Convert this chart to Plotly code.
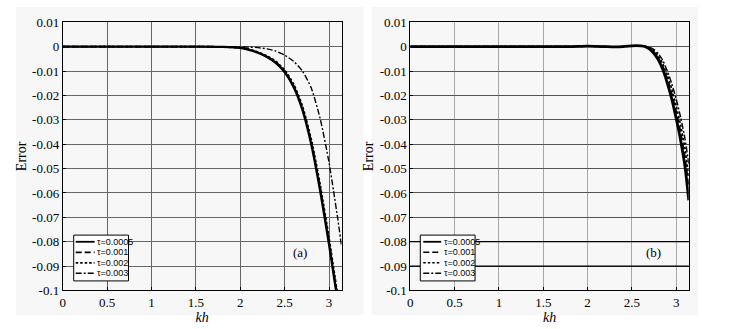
import plotly.graph_objects as go
from plotly.subplots import make_subplots

# ---- data -------------------------------------------------------------
tau_labels = ["τ=0.0005", "τ=0.001", "τ=0.002", "τ=0.003"]

# panel (a)
kh_a = [0, 0.5, 1.0, 1.5, 1.8, 2.0, 2.1, 2.2, 2.3, 2.4, 2.5, 2.6, 2.7,
        2.8, 2.9, 3.0, 3.05, 3.1, 3.1416]
err_a_0005 = [0, 0, 0, 0, -0.0001, -0.0005, -0.0013, -0.0025, -0.0042, -0.0066,
              -0.0104, -0.0164, -0.0258, -0.0400, -0.0590, -0.0810, -0.0930,
              -0.1050, -0.1160]
err_a_001 = [0, 0, 0, 0, -0.0001, -0.0005, -0.0012, -0.0024, -0.0041, -0.0064,
             -0.0101, -0.0160, -0.0252, -0.0392, -0.0580, -0.0800, -0.0920,
             -0.1040, -0.1150]
err_a_002 = [0, 0, 0, 0, -0.0001, -0.0004, -0.0011, -0.0022, -0.0038, -0.0060,
             -0.0096, -0.0153, -0.0243, -0.0380, -0.0566, -0.0785, -0.0905,
             -0.1025, -0.1135]
err_a_003 = [0, 0, 0, 0, 0, -0.0001, -0.0002, -0.0004, -0.0009, -0.0018,
             -0.0035, -0.0060, -0.0100, -0.0170, -0.0295, -0.0475, -0.0590,
             -0.0710, -0.0820]

# panel (b)
kh_b = [0, 0.5, 1.0, 1.5, 1.8, 1.9, 2.0, 2.1, 2.2, 2.3, 2.4, 2.5, 2.55, 2.6,
        2.65, 2.7, 2.75, 2.8, 2.85, 2.9, 2.95, 3.0, 3.05, 3.1, 3.1416]
err_b_0005 = [0, 0, 0, 0, 0, 0.0001, 0.0002, 0.0001, 0, -0.0001, 0, 0.0003,
              0.0004, 0.0003, 0, -0.0010, -0.0028, -0.0055, -0.0095, -0.0150,
              -0.0215, -0.0295, -0.0385, -0.0495, -0.0630]
err_b_001 = [0, 0, 0, 0, 0, 0.0001, 0.0002, 0.0001, 0, -0.0001, 0, 0.0003,
             0.0004, 0.0003, 0.0001, -0.0007, -0.0022, -0.0046, -0.0082, -0.0132,
             -0.0192, -0.0266, -0.0350, -0.0455, -0.0575]
err_b_002 = [0, 0, 0, 0, 0, 0.0001, 0.0002, 0.0001, 0, -0.0001, 0, 0.0003,
             0.0004, 0.0003, 0.0001, -0.0005, -0.0018, -0.0040, -0.0072, -0.0118,
             -0.0174, -0.0243, -0.0322, -0.0420, -0.0530]
err_b_003 = [0, 0, 0, 0, 0, 0.0001, 0.0002, 0.0001, 0, -0.0001, 0, 0.0003,
             0.0004, 0.0003, 0.0002, -0.0003, -0.0012, -0.0030, -0.0058, -0.0100,
             -0.0152, -0.0215, -0.0290, -0.0380, -0.0480]

x_ticks = [0, 0.5, 1, 1.5, 2, 2.5, 3]
x_ticktext = ["0", "0.5", "1", "1.5", "2", "2.5", "3"]
y_ticks = [0.01, 0, -0.01, -0.02, -0.03, -0.04, -0.05, -0.06, -0.07, -0.08,
           -0.09, -0.1]
y_ticktext = ["0.01", "0", "-0.01", "-0.02", "-0.03", "-0.04", "-0.05",
              "-0.06", "-0.07", "-0.08", "-0.09", "-0.1"]
panel_tags = ["(a)", "(b)"]

# ---- styling ----------------------------------------------------------
W, H = 732, 329
SERIF = "Liberation Serif"
SANS = "Liberation Sans"

styles = [
    dict(dash="solid", width=2.4),
    dict(dash="6px,3px", width=1.8),
    dict(dash="2.5px,2px", width=1.8),
    dict(dash="6px,2px,2px,2px", width=1.4),
]
styles_b = [
    dict(dash="solid", width=2.8),
    dict(dash="6px,3px", width=1.6),
    dict(dash="2.5px,2px", width=1.6),
    dict(dash="6px,2px,2px,2px", width=1.4),
]


def px(x):
    return x / W


def py(y):
    return 1 - y / H


fig = make_subplots(rows=1, cols=2)

series_a = [err_a_0005, err_a_001, err_a_002, err_a_003]
series_b = [err_b_0005, err_b_001, err_b_002, err_b_003]

for i in range(4):
    fig.add_trace(go.Scatter(x=kh_a, y=series_a[i], mode="lines",
                             line=dict(color="black", shape="spline",
                                       smoothing=0.6, **styles[i]),
                             name=tau_labels[i], showlegend=False),
                  row=1, col=1)
for i in range(4):
    fig.add_trace(go.Scatter(x=kh_b, y=series_b[i], mode="lines",
                             line=dict(color="black", shape="spline",
                                       smoothing=0.6, **styles_b[i]),
                             name=tau_labels[i], showlegend=False),
                  row=1, col=2)

x_dom = [[px(60), px(340)], [px(409), px(688.6)]]
y_dom = [py(297), py(16)]
grid_x = ["#666666", "#a8a8a8"]
grid_y = ["#666666", "#555555"]

for c in range(2):
    fig.update_xaxes(domain=x_dom[c], range=[0, 3.1416], tickvals=x_ticks,
                     ticktext=x_ticktext, showgrid=True, gridcolor=grid_x[c],
                     gridwidth=1, zeroline=False, showline=True,
                     linecolor="black", linewidth=1, mirror=True,
                     ticks="inside", ticklen=3, tickcolor="black",
                     tickfont=dict(family=SERIF, size=13, color="black"),
                     title=dict(text="<i>kh</i>", standoff=0,
                                font=dict(family=SERIF, size=14, color="black")),
                     row=1, col=c + 1)
    fig.update_yaxes(domain=y_dom, range=[-0.1, 0.01], tickvals=y_ticks,
                     ticktext=y_ticktext, showgrid=True, gridcolor=grid_y[c],
                     gridwidth=1, zeroline=False, showline=True,
                     linecolor="black", linewidth=1, mirror=True,
                     ticks="inside", ticklen=3, tickcolor="black",
                     tickfont=dict(family=SERIF, size=13, color="black"),
                     title=dict(text="Error", standoff=2,
                                font=dict(family=SERIF, size=14, color="black")),
                     row=1, col=c + 1)

shapes = []
annotations = []

# faint figure panels behind each axes
for x0, x1 in [(13, 362), (370, 698)]:
    shapes.append(dict(type="rect", xref="paper", yref="paper",
                       x0=px(x0), x1=px(x1), y0=py(323), y1=py(0),
                       fillcolor="#f7f7f7", line=dict(width=0), layer="below"))

# dark horizontal rules at -0.08 and -0.09 in panel (b)
for yv in [-0.08, -0.09]:
    shapes.append(dict(type="line", xref="x2 domain", yref="y2",
                       x0=0, x1=1, y0=yv, y1=yv,
                       line=dict(color="black", width=1.2)))

# hand-drawn legend boxes
legend_boxes = [dict(x0=71, x1=126, lx0=73, lx1=92, tx=92.5),
                dict(x0=419, x1=474, lx0=422, lx1=440, tx=440.5)]
row_y = [246, 257, 268, 279]
for c, box in enumerate(legend_boxes):
    shapes.append(dict(type="rect", xref="paper", yref="paper",
                       x0=px(box["x0"]), x1=px(box["x1"]),
                       y0=py(287), y1=py(239),
                       fillcolor="white", line=dict(color="black", width=1)))
    st = styles if c == 0 else styles_b
    for i in range(4):
        shapes.append(dict(type="line", xref="paper", yref="paper",
                           x0=px(box["lx0"]), x1=px(box["lx1"]),
                           y0=py(row_y[i]), y1=py(row_y[i]),
                           line=dict(color="black", dash=st[i]["dash"],
                                     width=min(st[i]["width"], 1.8))))
        annotations.append(dict(xref="paper", yref="paper",
                                x=px(box["tx"]), y=py(row_y[i]),
                                text=tau_labels[i], showarrow=False,
                                xanchor="left", yanchor="middle",
                                font=dict(family=SANS, size=9, color="black")))

# panel tags
annotations.append(dict(xref="x", yref="y", x=2.67, y=-0.0846,
                        text=panel_tags[0], showarrow=False,
                        font=dict(family=SERIF, size=13, color="black")))
annotations.append(dict(xref="x2", yref="y2", x=2.74, y=-0.0846,
                        text=panel_tags[1], showarrow=False,
                        font=dict(family=SERIF, size=13, color="black")))

fig.update_layout(width=W, height=H, margin=dict(l=0, r=0, t=0, b=0),
                  paper_bgcolor="white", plot_bgcolor="white",
                  showlegend=False, shapes=shapes, annotations=annotations)

fig.write_html("out.html")
